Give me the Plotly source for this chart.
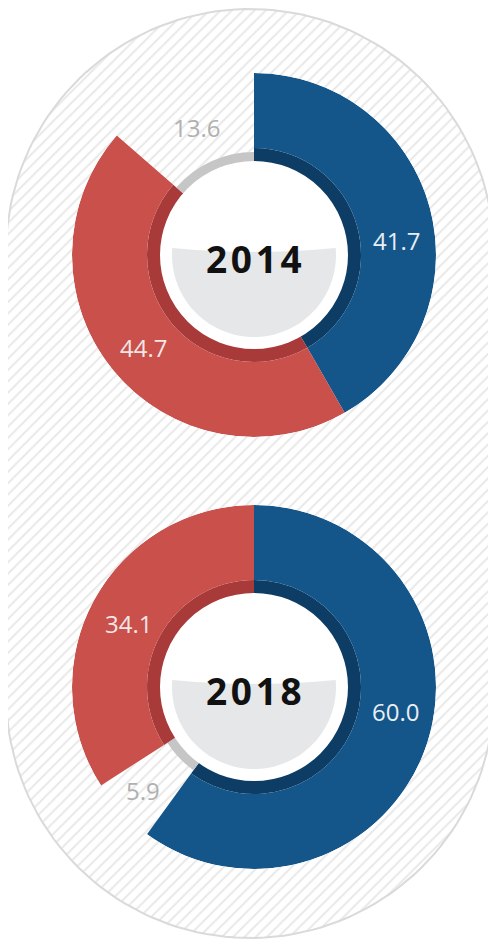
import numpy as np
import plotly.graph_objects as go

# Data: share of votes per group, clockwise from 12 o'clock
years = ["2014", "2018"]
order_2014 = ["blue", "red", "grey"]
shares_2014 = [41.7, 44.7, 13.6]
order_2018 = ["blue", "grey", "red"]
shares_2018 = [60.0, 5.9, 34.1]
labels_2014 = ["41.7", "44.7", "13.6"]
labels_2018 = ["60.0", "5.9", "34.1"]

# Styles
main_color = {"blue": "#14568a", "red": "#c9504b", "grey": "#c6c6c6"}
band_color = {"blue": "#0d3d65", "red": "#a83b3a", "grey": "#c6c6c6"}
label_color = {"blue": "#e9eef4", "red": "#f3e6e5", "grey": "#b0b0b0"}

# page is 496x947; the html body has an 8px margin, so the figure is smaller
PAGE_W, PAGE_H = 496, 947
OFF = 8
W, H = PAGE_W - 2 * OFF, PAGE_H - 2 * OFF
CX = 254
CENTERS_Y = [255, 687]
R_OUT, R_BAND, R_IN, R_GREY = 182, 107, 93, 103

# label offsets from the chart centre (pixels), per slice order
label_pos_2014 = [(142, -15), (-111, 92), (-58, -128)]
label_pos_2018 = [(141, 24), (-111, 103), (-126, -64)]

fig = go.Figure()

# hatched stadium background
rad, top, bottom, sx = 244, 9, 938, 250
a = np.linspace(np.pi, 2 * np.pi, 80)
b = np.linspace(0, np.pi, 80)
xs = np.concatenate([sx + rad * np.cos(a), sx + rad * np.cos(b)])
ys = np.concatenate([top + rad + rad * np.sin(a), bottom - rad + rad * np.sin(b)])
xs = np.append(xs, xs[0])
ys = np.append(ys, ys[0])
fig.add_trace(go.Scatter(
    x=xs, y=ys, mode="lines", fill="toself", fillcolor="white",
    fillpattern=dict(shape="/", fgcolor="#d2d2d2", bgcolor="white", size=8, solidity=0.25),
    line=dict(color="#dadada", width=2), hoverinfo="skip", showlegend=False,
))

charts = [
    (order_2014, shares_2014, labels_2014, label_pos_2014),
    (order_2018, shares_2018, labels_2018, label_pos_2018),
]

shapes = []
annotations = []
for i, (order, shares, labels, lpos) in enumerate(charts):
    subplot = "polar" if i == 0 else "polar2"
    cy = CENTERS_Y[i]
    widths = np.array(shares) * 3.6
    starts = np.concatenate([[0], np.cumsum(widths)[:-1]])
    thetas = starts + widths / 2

    for k, key in enumerate(order):
        if key == "grey":
            fig.add_trace(go.Barpolar(
                r=[R_GREY - R_IN], base=[R_IN], theta=[thetas[k]], width=[widths[k]],
                marker=dict(color=main_color[key], line=dict(width=0)),
                subplot=subplot, showlegend=False, hoverinfo="skip",
            ))
        else:
            fig.add_trace(go.Barpolar(
                r=[R_BAND - R_IN], base=[R_IN], theta=[thetas[k]], width=[widths[k]],
                marker=dict(color=band_color[key], line=dict(width=0)),
                subplot=subplot, showlegend=False, hoverinfo="skip",
            ))
            fig.add_trace(go.Barpolar(
                r=[R_OUT - R_BAND], base=[R_BAND], theta=[thetas[k]], width=[widths[k]],
                marker=dict(color=main_color[key], line=dict(width=0)),
                subplot=subplot, showlegend=False, hoverinfo="skip",
            ))
        dx, dy = lpos[k]
        annotations.append(dict(
            x=CX + dx, y=cy + dy, xref="x", yref="y", text=labels[k], showarrow=False,
            font=dict(family="Open Sans", size=24, color=label_color[key]),
        ))

    # white centre and grey bowl
    shapes.append(dict(type="circle", xref="x", yref="y", x0=CX - R_IN, x1=CX + R_IN,
                       y0=cy - R_IN, y1=cy + R_IN, fillcolor="white",
                       line=dict(color="white", width=2), layer="above"))
    rb, h = 82, 7
    a0 = -np.arcsin(h / rb)
    arc = np.linspace(a0, np.pi - a0, 60)
    px = CX + rb * np.cos(arc)
    py = cy + rb * np.sin(arc)
    path = f"M {px[-1]:.1f},{py[-1]:.1f} Q {CX},{cy + 1} {px[0]:.1f},{py[0]:.1f}"
    path += "".join(f" L {x:.1f},{y:.1f}" for x, y in zip(px[1:], py[1:]))
    path += " Z"
    shapes.append(dict(type="path", xref="x", yref="y", path=path,
                       fillcolor="#e6e7e9", line=dict(width=0), layer="above"))

    annotations.append(dict(
        x=CX, y=cy + 3, xref="x", yref="y", text="\u200a".join(years[i]), showarrow=False,
        font=dict(family="Open Sans", size=37, color="#111111", weight="bold"),
    ))


def polar_layout(cy):
    # convert page pixels to figure paper fractions
    xc = CX - OFF
    yc = H - (cy - OFF)
    return dict(
        domain=dict(x=[(xc - R_OUT) / W, (xc + R_OUT) / W], y=[(yc - R_OUT) / H, (yc + R_OUT) / H]),
        bgcolor="rgba(0,0,0,0)",
        barmode="overlay",
        radialaxis=dict(visible=False, range=[0, R_OUT]),
        angularaxis=dict(visible=False, rotation=90, direction="clockwise"),
    )


fig.update_layout(
    width=W, height=H,
    margin=dict(l=0, r=0, t=0, b=0, pad=0),
    paper_bgcolor="white", plot_bgcolor="white",
    xaxis=dict(range=[OFF, OFF + W], visible=False, fixedrange=True),
    yaxis=dict(range=[OFF + H, OFF], visible=False, fixedrange=True),
    polar=polar_layout(CENTERS_Y[0]),
    polar2=polar_layout(CENTERS_Y[1]),
    shapes=shapes,
    annotations=annotations,
    showlegend=False,
)

fig.write_html("out.html")
